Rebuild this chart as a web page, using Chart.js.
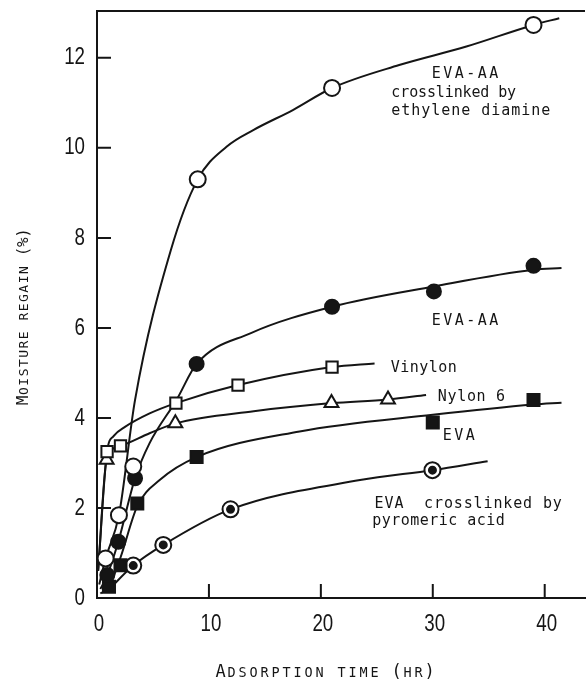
<!DOCTYPE html>
<html>
<head>
<meta charset="utf-8">
<script src="https://cdn.jsdelivr.net/npm/chart.js@4/dist/chart.umd.min.js"></script>
<style>
  html, body { margin: 0; padding: 0; background: #fff; }
</style>
</head>
<body>
<canvas id="chart" width="586" height="684"></canvas>
<script>
// values (x = hours, y = % regain)
const edX = [0.77, 1.96, 3.24, 9.0, 21.0, 39.0];          // EVA-AA crosslinked by ethylene diamine
const edY = [0.88, 1.84, 2.92, 9.3, 11.33, 12.73];
const aaX = [0.92, 1.9, 3.4, 8.9, 21.0, 30.1, 39.0];       // EVA-AA
const aaY = [0.51, 1.25, 2.66, 5.2, 6.47, 6.81, 7.38];
const vinX = [0.9, 2.1, 7.05, 12.6, 21.0];                 // Vinylon
const vinY = [3.25, 3.38, 4.33, 4.73, 5.13];
const nyX = [0.86, 7.0, 20.95, 26.0];                      // Nylon 6
const nyY = [3.07, 3.88, 4.33, 4.41];
const evaX = [1.07, 2.1, 3.6, 8.9, 30.0, 39.0];            // EVA
const evaY = [0.25, 0.73, 2.1, 3.13, 3.9, 4.4];
const pyX = [3.24, 5.92, 11.93, 29.97];                    // EVA crosslinked by pyromeric acid
const pyY = [0.72, 1.18, 1.97, 2.84];

// the hand-drawn fitted curves
const edCurveX = [0.2, 0.77, 1.96, 3.4, 6.6, 9.0, 11.6, 14.0, 17.5, 21.0, 27.0, 33.0, 39.0, 41.3];
const edCurveY = [0.3, 0.88, 1.84, 4.4, 7.73, 9.3, 10.03, 10.4, 10.84, 11.33, 11.84, 12.25, 12.73, 12.88];
const aaCurveX = [0.3, 0.92, 1.9, 3.4, 4.7, 7.1, 8.9, 13.7, 21.0, 30.1, 39.0, 41.5];
const aaCurveY = [0.2, 0.51, 1.25, 2.66, 3.44, 4.4, 5.2, 5.88, 6.47, 6.92, 7.29, 7.33];
const vinCurveX = [0.1, 0.9, 1.5, 2.5, 4.7, 7.05, 12.6, 21.0, 24.8];
const vinCurveY = [0.6, 3.25, 3.6, 3.8, 4.1, 4.33, 4.73, 5.13, 5.21];
const nyCurveX = [0.1, 0.86, 2.1, 4.7, 7.0, 14.0, 21.0, 26.0, 29.4];
const nyCurveY = [0.6, 3.07, 3.38, 3.66, 3.88, 4.15, 4.33, 4.41, 4.51];
const evaCurveX = [0.3, 1.07, 2.1, 3.6, 5.6, 8.9, 18.1, 30.0, 39.0, 41.5];
const evaCurveY = [0.1, 0.25, 0.9, 2.04, 2.62, 3.13, 3.7, 4.07, 4.3, 4.34];
const pyCurveX = [1.0, 3.24, 5.92, 11.93, 23.5, 29.97, 34.9];
const pyCurveY = [0.17, 0.72, 1.18, 1.97, 2.62, 2.84, 3.04];

const xTicks = [0, 10, 20, 30, 40];
const yTicks = [0, 2, 4, 6, 8, 10, 12];

const xTitle = 'Adsorption time (hr)';
const yTitle = 'Moisture regain (%)';

// curve labels, placed in data units
const notes = [
  { text: 'EVA-AA', x: 29.9, y: 11.56, step: 11.5 },
  { text: 'crosslinked by', x: 26.3, y: 11.13, step: 8.9 },
  { text: 'ethylene diamine', x: 26.3, y: 10.73, step: 10 },
  { text: 'EVA-AA', x: 29.9, y: 6.07, step: 11.5 },
  { text: 'Vinylon', x: 26.25, y: 5.02, step: 9.5 },
  { text: 'Nylon 6', x: 30.45, y: 4.38, step: 9.7 },
  { text: 'EVA', x: 30.9, y: 3.51, step: 11.5 },
  { text: 'EVA  crosslinked by', x: 24.8, y: 2.0, step: 9.9 },
  { text: 'pyromeric acid', x: 24.6, y: 1.62, step: 9.5 }
];

const ink = '#151515';
const mono = '"DejaVu Sans Mono", "Liberation Mono", monospace';
const sans = '"Liberation Sans", Arimo, sans-serif';

function pts(xs, ys) {
  return xs.map((v, i) => ({ x: v, y: ys[i] }));
}

function curve(xs, ys) {
  return {
    data: pts(xs, ys), showLine: true, borderColor: ink, borderWidth: 2,
    pointRadius: 0, cubicInterpolationMode: 'monotone', fill: false, order: 3
  };
}

function marks(xs, ys, style, r, fill, order) {
  return {
    data: pts(xs, ys), showLine: false, pointStyle: style, pointRadius: r,
    pointBackgroundColor: fill, pointBorderColor: ink, pointBorderWidth: 2,
    order: order === undefined ? 1 : order
  };
}

function drawSpaced(ctx, text, x, y, step) {
  for (const ch of text) {
    ctx.fillText(ch, x, y);
    x += step;
  }
}

// small caps with a fixed pitch, like the typewritten axis titles
function drawCaps(ctx, text, x, y, step, big, small) {
  ctx.textAlign = 'center';
  for (const ch of text) {
    const low = ch !== ch.toUpperCase();
    ctx.font = (low ? small : big) + 'px ' + mono;
    ctx.fillText(ch.toUpperCase(), x + step / 2, y);
    x += step;
  }
}

// narrow tick numerals (the scan uses a condensed face)
function drawNarrow(ctx, text, x, y, align) {
  ctx.save();
  ctx.translate(x, y);
  ctx.scale(0.78, 1);
  ctx.textAlign = align;
  ctx.textBaseline = 'middle';
  ctx.fillText(text, 0, 0);
  ctx.restore();
}

function noPad(s) {
  s.paddingTop = 0; s.paddingBottom = 0; s.paddingLeft = 0; s.paddingRight = 0;
}

const paper = {
  id: 'paper',
  beforeDatasetsDraw(chart) {
    const { ctx, chartArea: a, scales: { x, y } } = chart;
    ctx.save();
    ctx.strokeStyle = ink;
    ctx.lineWidth = 2;
    ctx.beginPath();
    ctx.moveTo(a.left, a.top);
    ctx.lineTo(a.right, a.top);
    // inward tick marks
    y.ticks.forEach(t => {
      if (t.value <= 0) return;
      const p = y.getPixelForValue(t.value);
      ctx.moveTo(a.left, p);
      ctx.lineTo(a.left + 14, p);
    });
    x.ticks.forEach(t => {
      if (t.value <= 0) return;
      const p = x.getPixelForValue(t.value);
      ctx.moveTo(p, a.bottom);
      ctx.lineTo(p, a.bottom - 14);
    });
    ctx.stroke();
    ctx.restore();
  },
  afterDraw(chart) {
    const { ctx, chartArea: a, scales: { x, y } } = chart;
    ctx.save();
    ctx.fillStyle = ink;

    ctx.font = '24px ' + sans;
    y.ticks.forEach(t => drawNarrow(ctx, String(t.value), a.left - 12, y.getPixelForValue(t.value), 'right'));
    x.ticks.forEach(t => drawNarrow(ctx, String(t.value), x.getPixelForValue(t.value) + 2, a.bottom + 26, 'center'));

    ctx.textBaseline = 'alphabetic';
    ctx.textAlign = 'left';
    ctx.font = '15px ' + mono;
    notes.forEach(n => {
      drawSpaced(ctx, n.text, x.getPixelForValue(n.x), y.getPixelForValue(n.y), n.step);
    });

    drawCaps(ctx, xTitle, a.left + 118, a.bottom + 79, 11, 17, 13.5);

    ctx.translate(28, a.bottom - 193);
    ctx.rotate(-Math.PI / 2);
    drawCaps(ctx, yTitle, 0, 0, 9.3, 16, 13);
    ctx.restore();
  }
};

new Chart(document.getElementById('chart'), {
  type: 'scatter',
  data: {
    datasets: [
      curve(edCurveX, edCurveY),
      curve(aaCurveX, aaCurveY),
      curve(vinCurveX, vinCurveY),
      curve(nyCurveX, nyCurveY),
      curve(evaCurveX, evaCurveY),
      curve(pyCurveX, pyCurveY),
      marks(edX, edY, 'circle', 8, '#fff'),
      marks(aaX, aaY, 'circle', 7, ink),
      marks(vinX, vinY, 'rect', 8, '#fff'),
      marks(nyX, nyY, 'triangle', 8, '#fff'),
      marks(evaX, evaY, 'rect', 8.5, ink),
      marks(pyX, pyY, 'circle', 8, '#fff', 2),
      marks(pyX, pyY, 'circle', 3.5, ink, 0)
    ]
  },
  plugins: [paper],
  options: {
    responsive: false,
    animation: false,
    layout: { autoPadding: false, padding: { top: 11, right: 1, left: 0, bottom: 0 } },
    plugins: { legend: { display: false }, tooltip: { enabled: false } },
    scales: {
      x: {
        type: 'linear', min: 0, max: 43.6,
        afterBuildTicks: s => { s.ticks = xTicks.map(v => ({ value: v })); },
        afterFit: s => { s.height = 86; noPad(s); },
        grid: { display: false, drawTicks: false },
        border: { display: true, color: ink, width: 2 },
        ticks: { display: false }
      },
      y: {
        type: 'linear', min: 0, max: 13.04,
        afterBuildTicks: s => { s.ticks = yTicks.map(v => ({ value: v })); },
        afterFit: s => { s.width = 97; noPad(s); },
        grid: { display: false, drawTicks: false },
        border: { display: true, color: ink, width: 2 },
        ticks: { display: false }
      }
    }
  }
});
</script>
</body>
</html>
